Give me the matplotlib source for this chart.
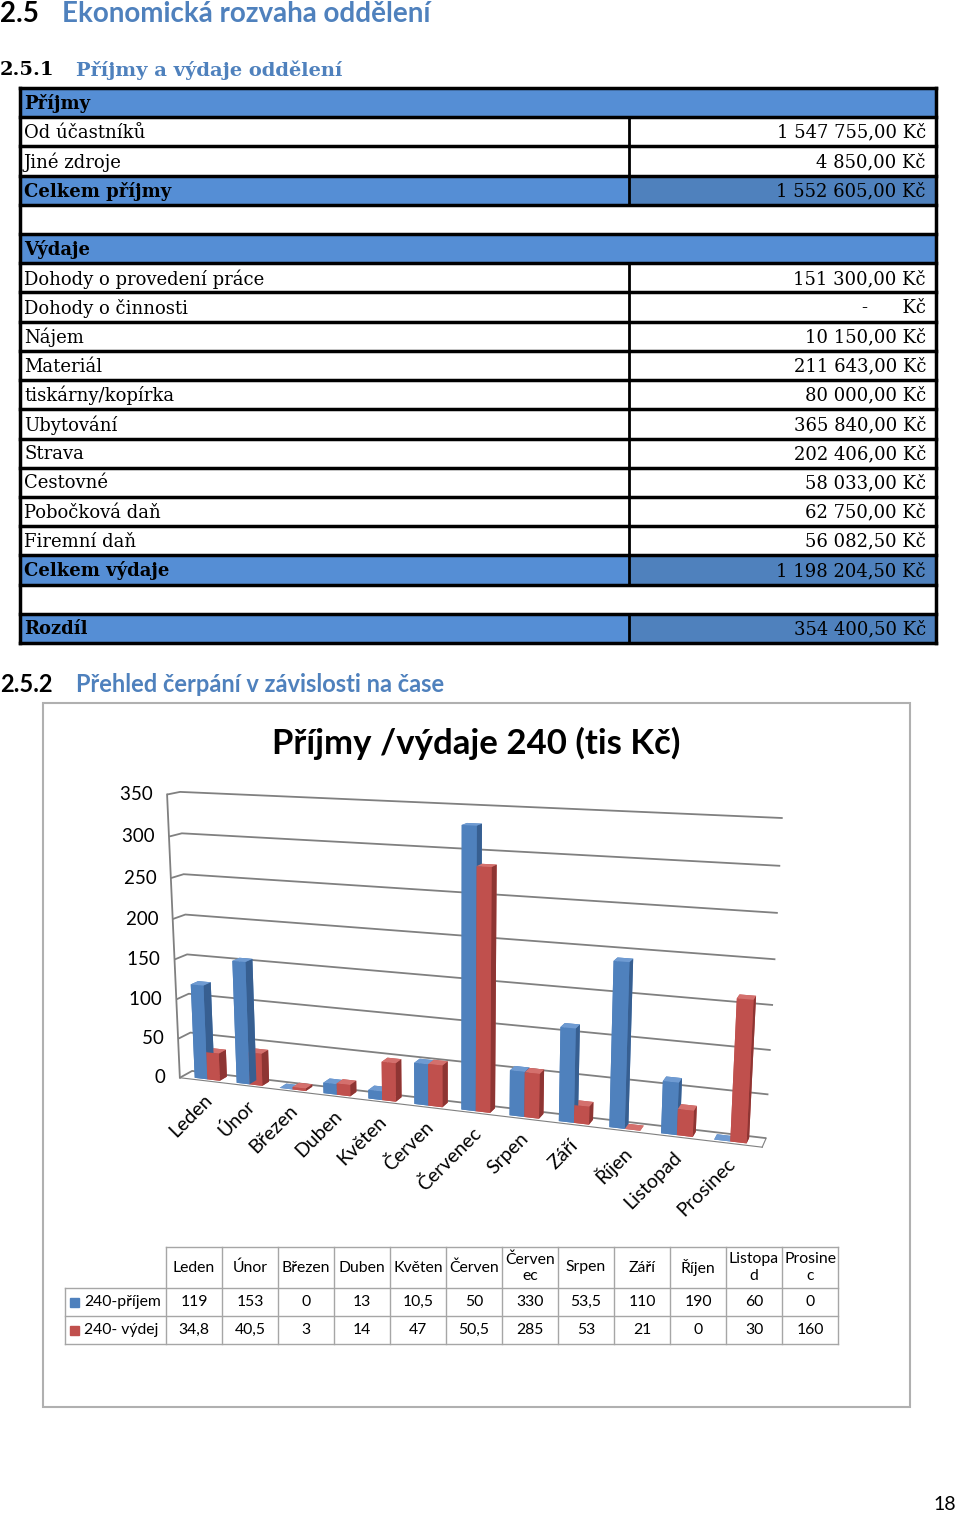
import numpy as np
import matplotlib
matplotlib.use("Agg")
import matplotlib.pyplot as plt
from matplotlib.patches import Rectangle
from mpl_toolkits.mplot3d import proj3d

plt.rcParams['font.family'] = ['Lato', 'DejaVu Sans']
plt.rcParams['grid.color'] = '#808080'
plt.rcParams['grid.linewidth'] = 1.3

# --- data -------------------------------------------------------------
months = ["Leden", "Únor", "Březen", "Duben", "Květen", "Červen",
          "Červenec", "Srpen", "Září", "Říjen", "Listopad", "Prosinec"]
table_months = ["Leden", "Únor", "Březen", "Duben", "Květen", "Červen",
                "Červen\nec", "Srpen", "Září", "Říjen", "Listopa\nd", "Prosine\nc"]
prijem = [119, 153, 0, 13, 10.5, 50, 330, 53.5, 110, 190, 60, 0]
vydej = [34.8, 40.5, 3, 14, 47, 50.5, 285, 53, 21, 0, 30, 160]
series_names = ["240-příjem", "240- výdej"]
series_colors = ["#4f81bd", "#c0504d"]
# face shades: bottom, top, front, back, left, right
face_shades = {
    "#4f81bd": ["#4f81bd", "#6f9bd2", "#4f81bd", "#4f81bd", "#4f81bd", "#375f91"],
    "#c0504d": ["#c0504d", "#d4706d", "#c0504d", "#c0504d", "#c0504d", "#8e3533"],
}
z_ticks = [0, 50, 100, 150, 200, 250, 300, 350]

income_items = ["Od účastníků", "Jiné zdroje"]
income_values = ["1 547 755,00 Kč", "4 850,00 Kč"]
income_total = "1 552 605,00 Kč"
expense_items = ["Dohody o provedení práce", "Dohody o činnosti", "Nájem", "Materiál",
                 "tiskárny/kopírka", "Ubytování", "Strava", "Cestovné",
                 "Pobočková daň", "Firemní daň"]
expense_values = ["151 300,00 Kč", "-      Kč", "10 150,00 Kč", "211 643,00 Kč",
                  "80 000,00 Kč", "365 840,00 Kč", "202 406,00 Kč", "58 033,00 Kč",
                  "62 750,00 Kč", "56 082,50 Kč"]
expense_total = "1 198 204,50 Kč"
difference = "354 400,50 Kč"

HEAD_BLUE = "#558ed5"
TOTAL_BLUE = "#4f81bd"
TITLE_BLUE = "#4f81bd"


def fmt(v):
    return ("%g" % v).replace(".", ",")


fig = plt.figure(figsize=(9.6, 15.15), dpi=100)
page = fig.add_axes([0, 0, 1, 1])
page.set_xlim(0, 960)
page.set_ylim(1515, 0)
page.axis("off")

# --- headings ---------------------------------------------------------
page.text(0, 14, "2.5", fontsize=20, fontweight="bold", va="center")
page.text(62, 14, "Ekonomická rozvaha oddělení", fontsize=20, fontweight="bold",
          color=TITLE_BLUE, va="center")
page.text(0, 70, "2.5.1", fontsize=14, fontweight="bold", family="DejaVu Serif", va="center")
page.text(76, 70, "Příjmy a výdaje oddělení", fontsize=14, fontweight="bold",
          family="DejaVu Serif", color=TITLE_BLUE, va="center")
page.text(0, 685, "2.5.2", fontsize=17, fontweight="bold", va="center")
page.text(76, 685, "Přehled čerpání v závislosti na čase", fontsize=17,
          fontweight="bold", color=TITLE_BLUE, va="center")

# --- finance table ----------------------------------------------------
rows = [("Příjmy", None, "head")]
rows += [(a, b, "item") for a, b in zip(income_items, income_values)]
rows += [("Celkem příjmy", income_total, "total"), ("", None, "blank"), ("Výdaje", None, "head")]
rows += [(a, b, "item") for a, b in zip(expense_items, expense_values)]
rows += [("Celkem výdaje", expense_total, "total"), ("", None, "blank"), ("Rozdíl", difference, "total")]

x0, xm, x1 = 20, 629, 936
top = 88
rh = (643 - top) / len(rows)
for i, (label, value, kind) in enumerate(rows):
    y = top + i * rh
    if kind == "head":
        page.add_patch(Rectangle((x0, y), x1 - x0, rh, color=HEAD_BLUE, zorder=1))
    elif kind == "total":
        page.add_patch(Rectangle((x0, y), xm - x0, rh, color=HEAD_BLUE, zorder=1))
        page.add_patch(Rectangle((xm, y), x1 - xm, rh, color=TOTAL_BLUE, zorder=1))
    if value is not None:
        page.plot([xm, xm], [y, y + rh], color="black", lw=2, zorder=3)
        page.text(x1 - 10, y + rh / 2 + 1, value, family="DejaVu Serif", fontsize=13,
                  ha="right", va="center", zorder=4)
    bold = kind in ("head", "total")
    page.text(x0 + 4, y + rh / 2 + 1, label, family="DejaVu Serif", fontsize=13,
              fontweight="bold" if bold else "normal", ha="left", va="center", zorder=4)
    page.plot([x0, x1], [y, y], color="black", lw=2.5, zorder=3)
page.plot([x0, x1], [643, 643], color="black", lw=2.5, zorder=3)
page.plot([x0, x0], [top, 643], color="black", lw=2.5, zorder=3)
page.plot([x1, x1], [top, 643], color="black", lw=2.5, zorder=3)

# --- chart frame and title --------------------------------------------
page.add_patch(Rectangle((43, 703), 867, 704, fill=False, edgecolor="#b0b0b0", lw=1.5))
page.text(476, 743, "Příjmy /výdaje 240 (tis Kč)", fontsize=25, fontweight="bold",
          ha="center", va="center")

# --- 3D bar chart -----------------------------------------------------
ax3 = fig.add_axes([0.046, 0.187, 0.84, 0.35], projection="3d")
ax3.set_facecolor("none")
n = len(months)
xs = np.arange(n)
bw = 0.3
bx = np.concatenate([xs - bw, xs])
by = np.full(2 * n, 0.2)
bz = np.zeros(2 * n)
dz = np.array(prijem + vydej, dtype=float)
cols = []
for c in [series_colors[0]] * n + [series_colors[1]] * n:
    cols += face_shades[c]
bars = ax3.bar3d(bx, by, bz, bw, 0.6, dz, color=cols, shade=False)
bars.set_clip_on(False)

xlo, xhi = -0.6, n - 0.4
ax3.set_xlim(xlo, xhi)
ax3.set_ylim(0, 1)
ax3.set_zlim(z_ticks[0], z_ticks[-1])
ax3.set_box_aspect((12, 0.5, 5.9), zoom=1.28)
ax3.set_proj_type("persp", focal_length=0.5)
ax3.view_init(elev=13, azim=-70)
ax3.set_xticks([])
ax3.set_yticks([])
ax3.set_zticks(z_ticks)
ax3.set_zticklabels([])
ax3.zaxis._axinfo["tick"]["inward_factor"] = 0
ax3.zaxis._axinfo["tick"]["outward_factor"] = 0
for axis in (ax3.xaxis, ax3.yaxis, ax3.zaxis):
    axis.set_pane_color((1, 1, 1, 0))
    axis.pane.set_edgecolor("#808080")
    axis.line.set_color("#808080")
ax3.yaxis.pane.set_edgecolor((1, 1, 1, 0))
ax3.xaxis.pane.set_edgecolor((1, 1, 1, 0))
ax3.zaxis.line.set_color((1, 1, 1, 0))
# left front edge of the side wall
edge, = ax3.plot([xlo, xlo], [0, 0], [z_ticks[0], z_ticks[-1]], color="#808080", lw=1.3)
edge.set_clip_on(False)

# labels are placed at projected 3D positions (Text3D ignores rotation)
fig.canvas.draw()
M = ax3.get_proj()
for z in z_ticks:
    px, py, _ = proj3d.proj_transform(xlo, 0, z, M)
    ax3.text2D(px, py, str(z) + "   ", transform=ax3.transData, fontsize=13.5,
               ha="right", va="center")
for i, m in enumerate(months):
    px, py, _ = proj3d.proj_transform(i - 0.05, 0, -14, M)
    ax3.text2D(px, py, m, transform=ax3.transData, fontsize=14, rotation=45,
               ha="right", va="top", rotation_mode="anchor")

# --- data table under the chart ----------------------------------------
cx0, cw = 166, 56
hy0, hy1, ry = 1247, 1288, 28
grid = "#a6a6a6"
for j, m in enumerate(table_months):
    page.text(cx0 + cw * (j + 0.5), (hy0 + hy1) / 2, m, fontsize=11.3,
              ha="center", va="center", linespacing=1.2)
for k, (vals, name, col) in enumerate(zip([prijem, vydej], series_names, series_colors)):
    yc = hy1 + ry * (k + 0.5)
    page.add_patch(Rectangle((70, yc - 4.5), 9, 9, color=col))
    page.text(84, yc, name, fontsize=11.3, ha="left", va="center")
    for j, v in enumerate(vals):
        page.text(cx0 + cw * (j + 0.5), yc, fmt(v), fontsize=11.3, ha="center", va="center")
page.plot([cx0, cx0 + cw * n], [hy0, hy0], color=grid, lw=1)
for k in range(3):
    page.plot([65, cx0 + cw * n], [hy1 + ry * k, hy1 + ry * k], color=grid, lw=1)
for j in range(n + 1):
    page.plot([cx0 + cw * j] * 2, [hy0, hy1 + 2 * ry], color=grid, lw=1)
page.plot([65, 65], [hy1, hy1 + 2 * ry], color=grid, lw=1)

page.text(945, 1505, "18", fontsize=14, ha="center", va="center")

fig.savefig("out.png", dpi=100)
